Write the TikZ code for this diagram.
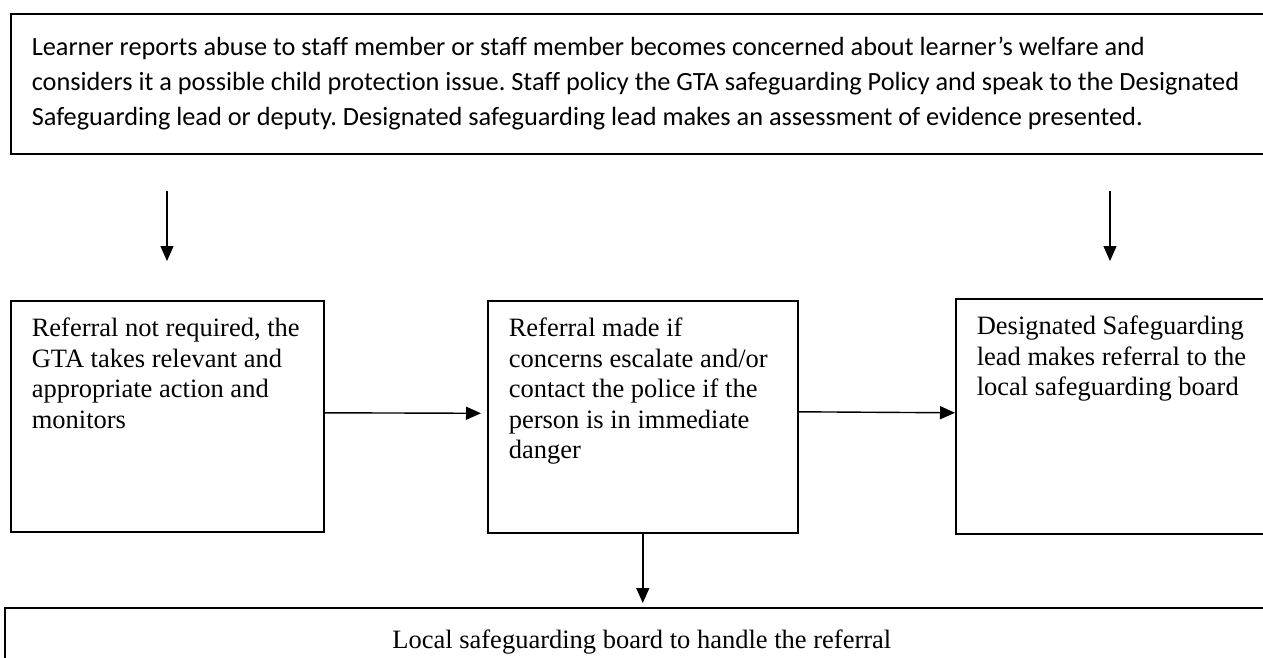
\documentclass[tikz,border=0pt]{standalone}
\usepackage{fontspec}
\setmainfont{Liberation Serif}
\newfontfamily\calibri[Ligatures=NoCommon]{Carlito}
\usetikzlibrary{arrows.meta}
\frenchspacing
\tikzset{
	flowbox/.style={draw, line width=1.6pt, anchor=north west, inner xsep=21pt, inner ysep=17.5pt, font=\fontsize{26.5}{30.5}\selectfont},
	flowarrow/.style={line width=1.4pt, -{Triangle[length=15pt,width=13pt]}}
}
\newcommand{\boxtxt}[3]{\parbox[t][#2][t]{#1}{\raggedright\rule{0pt}{18.5pt}#3}}

\begin{document}
\begin{tikzpicture}[x=1pt,y=-1pt]
	\useasboundingbox (0,0) rectangle (1263,658);
	% top box
	\node[flowbox, inner ysep=23.5pt, font=\calibri\fontsize{26.3}{35}\selectfont] (report) at (10,13)
		{\boxtxt{1260pt}{93pt}{Learner reports abuse to staff member or staff member becomes concerned about learner’s welfare and\\
		considers it a possible child protection issue. Staff policy the GTA safeguarding Policy and speak to the Designated\\
		Safeguarding lead or deputy. Designated safeguarding lead makes an assessment of evidence presented.}};
	\foreach \x/\n in {167/a,1110/b}{
		\coordinate (\n top) at (\x,191);
		\coordinate (\n end) at (\x,261);
		\draw[flowarrow] (\n top) -- (\n end);
	}
	% middle row
	\node[flowbox] (noref) at (10,300)
		{\boxtxt{271pt}{196pt}{Referral not required, the\\ GTA takes relevant and\\ appropriate action and\\ monitors}};
	\node[flowbox] (refmade) at (487,300)
		{\boxtxt{268pt}{197pt}{Referral made if\\ concerns escalate and/or\\ contact the police if the\\ person is in immediate\\ danger}};
	\node[flowbox] (dsl) at (955,298)
		{\boxtxt{288pt}{200pt}{Designated Safeguarding\\ lead makes referral to the\\ local safeguarding board}};
	% bottom box
	\node[flowbox, inner ysep=0pt, minimum width=1274pt, minimum height=68pt] (board) at (4,607)
		{Local safeguarding board to handle the referral};
	\draw[flowarrow, shorten >=6pt] ([yshift=3.5pt]noref.east) -- ([yshift=3.5pt]refmade.west);
	\draw[flowarrow] ([yshift=5pt]refmade.east) -- ([yshift=3.5pt]dsl.west);
	\draw[flowarrow, shorten >=4pt] (refmade.south) -- (refmade.south |- board.north);
\end{tikzpicture}
\end{document}
